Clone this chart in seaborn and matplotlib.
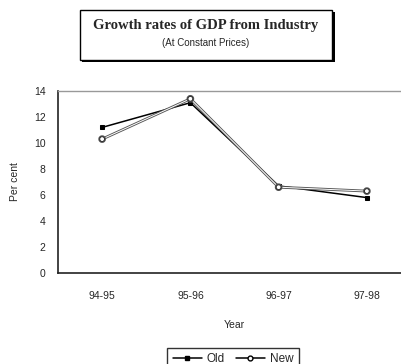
import matplotlib
matplotlib.use("Agg")
import matplotlib.pyplot as plt
import matplotlib.patheffects as pe
from matplotlib.patches import Rectangle
import seaborn as sns
import pandas as pd

years = ["94-95", "95-96", "96-97", "97-98"]
old_vals = [11.2, 13.1, 6.7, 5.8]
new_vals = [10.3, 13.4, 6.6, 6.3]
series_names = ["Old", "New"]
y_ticks = [0, 2, 4, 6, 8, 10, 12, 14]

df = pd.DataFrame({
    "Year": years * 2,
    "Per cent": old_vals + new_vals,
    "Series": [series_names[0]] * len(years) + [series_names[1]] * len(years),
})

sns.set_style("white")
plt.rcParams["font.family"] = ["Liberation Sans", "DejaVu Sans"]

fig = plt.figure(figsize=(4.01, 3.64), dpi=100)
ax = fig.add_axes([58 / 401, 1 - 273 / 364, 353 / 401, 182 / 364])

sns.lineplot(data=df, x="Year", y="Per cent", hue="Series", style="Series",
             palette={"Old": "black", "New": "#666666"},
             markers={"Old": "s", "New": "o"}, dashes=False, sort=False,
             linewidth=1.1, ax=ax, legend=False)

lines = ax.get_lines()
lines[0].set_markersize(2.2)
lines[0].set_markerfacecolor("black")
lines[0].set_markeredgecolor("black")
lines[1].set_markersize(3.5)
lines[1].set_markerfacecolor("white")
lines[1].set_markeredgecolor("#333333")
lines[1].set_color("white")
lines[1].set_linewidth(0.7)
lines[1].set_path_effects([pe.Stroke(linewidth=2.0, foreground="#555555"), pe.Normal()])

ax.set_xlim(-0.5, 3.5)
ax.set_ylim(0, 14)
ax.set_yticks(y_ticks)
ax.set_xticks(range(len(years)))
ax.set_xticklabels(years)
ax.set_xticks([-0.5, 0.5, 1.5, 2.5, 3.5], minor=True)
ax.tick_params(axis="x", which="both", direction="in", length=2.5, color="#888888",
               labelsize=7.5, pad=13)
ax.tick_params(axis="y", length=0, labelsize=7.5, pad=9)
for s in ["top", "right"]:
    ax.spines[s].set_color("#999999")
    ax.spines[s].set_linewidth(1)
for s in ["left", "bottom"]:
    ax.spines[s].set_color("#222222")
    ax.spines[s].set_linewidth(1.2)
ax.set_xlabel("Year", fontsize=7.5, labelpad=14)
ax.set_ylabel("Per cent", fontsize=7.5, labelpad=10)

# title box with shadow
fig.patches.append(Rectangle((82 / 401, 1 - 62 / 364), 253 / 401, 50 / 364,
                             transform=fig.transFigure, facecolor="black",
                             edgecolor="none", zorder=1))
fig.patches.append(Rectangle((80 / 401, 1 - 60 / 364), 252 / 401, 50 / 364,
                             transform=fig.transFigure, facecolor="white",
                             edgecolor="black", linewidth=1, zorder=2))
fig.text(206 / 401, 1 - 25 / 364, "Growth rates of GDP from Industry",
         family=["Liberation Serif", "DejaVu Serif"], fontweight="bold",
         fontsize=10.5, ha="center", va="center", zorder=3)
fig.text(206 / 401, 1 - 43 / 364, "(At Constant Prices)", fontsize=7,
         ha="center", va="center", zorder=3)

# legend
handles = [plt.Line2D([], [], color="black", marker="s", markersize=2.2, lw=1.1),
           plt.Line2D([], [], color="black", marker="o", markersize=3.5,
                      markerfacecolor="white", lw=1.1)]
leg = fig.legend(handles, series_names, loc="upper center",
                 bbox_to_anchor=(233 / 401, 1 - 342 / 364), ncol=2, fontsize=8.5,
                 frameon=True, fancybox=False, handlelength=2.5, handletextpad=0.4,
                 columnspacing=0.9, borderpad=0.45)
leg.get_frame().set_edgecolor("black")
leg.get_frame().set_linewidth(1)

fig.savefig("out.png", dpi=100)
